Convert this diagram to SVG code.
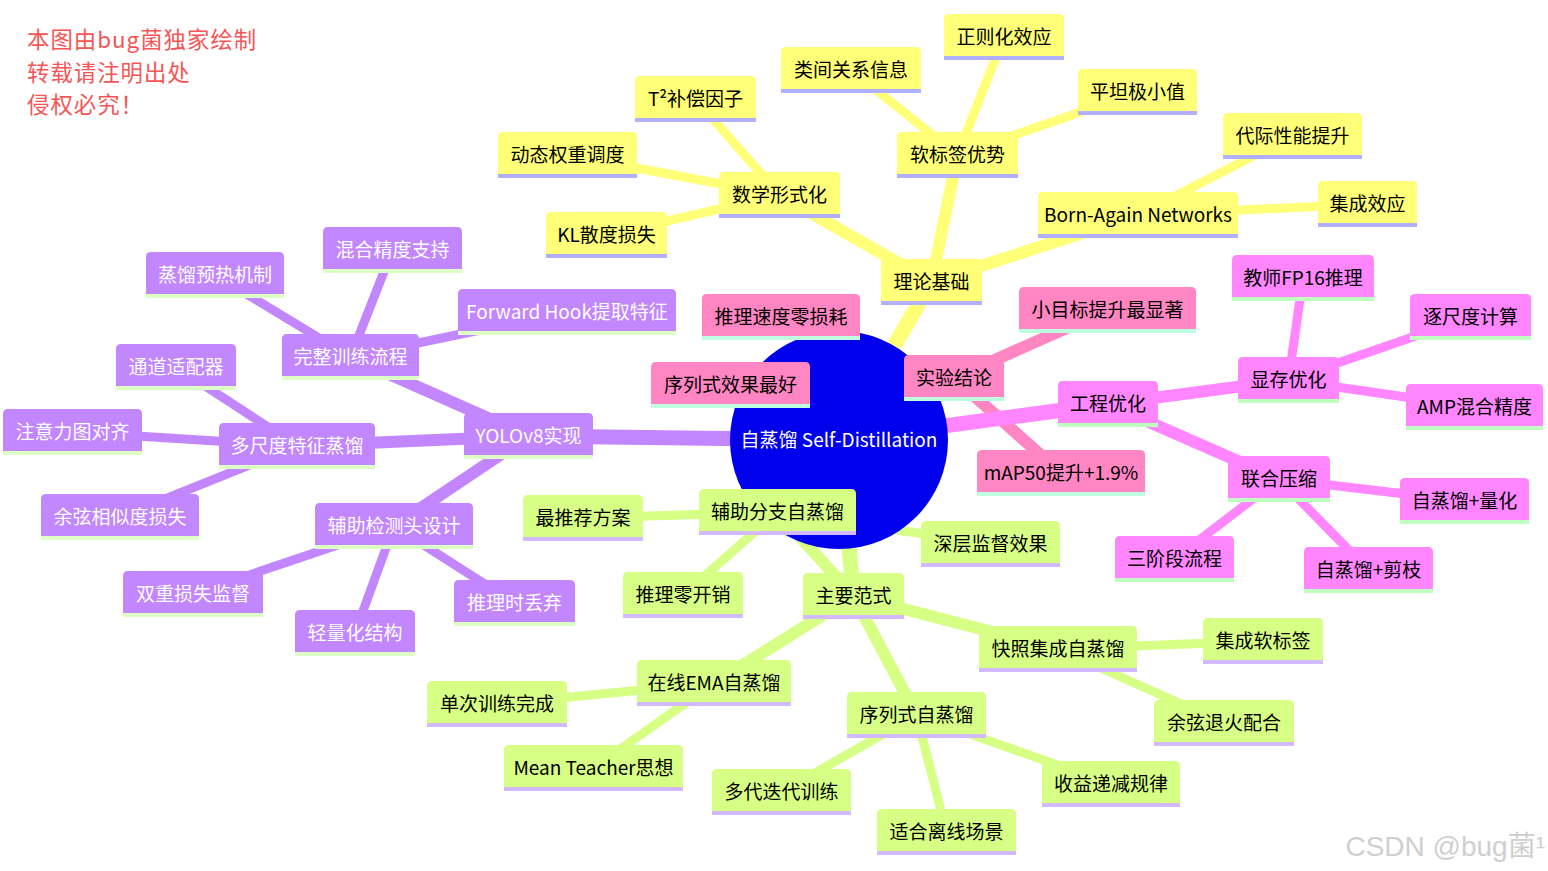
<svg xmlns="http://www.w3.org/2000/svg" width="1548" height="871" viewBox="0 0 1548 871">
<style>
text{font-family:"Noto Sans CJK SC","Noto Sans",sans-serif;font-size:19px;text-anchor:middle}
.e{fill:none;stroke-linecap:butt}
.w0{stroke-width:15}.w1{stroke-width:12}.w2{stroke-width:9}
.cy{stroke:#ffff78}.cp{stroke:#ff86c2}.cm{stroke:#ff86ff}.cu{stroke:#c286ff}.cg{stroke:#d7ff86}
.sy .b{fill:#ffff78}.sy .l{fill:#b0b0ff}.sy text{fill:#000}
.sp .b{fill:#ff86c2}.sp .l{fill:#bdffe0}.sp text{fill:#000}
.sm .b{fill:#ff86ff}.sm .l{fill:#bfffbf}.sm text{fill:#000}
.su .b{fill:#c286ff}.su .l{fill:#ddffc6}.su text{fill:#fff}
.sg .b{fill:#d7ff86}.sg .l{fill:#d3b9ff}.sg text{fill:#000}
.note{font-size:22.4px;letter-spacing:1px;text-anchor:start;fill:#f55555}
.wm{font-family:"Liberation Sans","Noto Sans CJK SC",sans-serif;font-size:28px;text-anchor:end;fill:#cfcfcf}
</style>
<rect width="1548" height="871" fill="#fff"/>
<g id="connectors">
<line class="e w0 cy" x1="839" y1="440" x2="931.5" y2="282"/>
<line class="e w1 cy" x1="931.5" y1="282" x2="779.5" y2="195"/>
<line class="e w1 cy" x1="931.5" y1="282" x2="957.5" y2="155"/>
<line class="e w1 cy" x1="931.5" y1="282" x2="1138" y2="215"/>
<line class="e w2 cy" x1="779.5" y1="195" x2="695.5" y2="99"/>
<line class="e w2 cy" x1="779.5" y1="195" x2="567.5" y2="155"/>
<line class="e w2 cy" x1="779.5" y1="195" x2="606.5" y2="235"/>
<line class="e w2 cy" x1="957.5" y1="155" x2="851" y2="70"/>
<line class="e w2 cy" x1="957.5" y1="155" x2="1004" y2="37"/>
<line class="e w2 cy" x1="957.5" y1="155" x2="1137.5" y2="92"/>
<line class="e w2 cy" x1="1138" y1="215" x2="1292.5" y2="136"/>
<line class="e w2 cy" x1="1138" y1="215" x2="1367.5" y2="204"/>
<line class="e w0 cp" x1="839" y1="440" x2="954" y2="378"/>
<line class="e w1 cp" x1="954" y1="378" x2="1107.5" y2="310"/>
<line class="e w1 cp" x1="954" y1="378" x2="1061" y2="473"/>
<line class="e w1 cp" x1="954" y1="378" x2="781" y2="317"/>
<line class="e w1 cp" x1="954" y1="378" x2="730.5" y2="385"/>
<line class="e w0 cm" x1="839" y1="440" x2="1108" y2="404"/>
<line class="e w1 cm" x1="1108" y1="404" x2="1288.5" y2="380"/>
<line class="e w1 cm" x1="1108" y1="404" x2="1279" y2="479"/>
<line class="e w2 cm" x1="1288.5" y1="380" x2="1303" y2="278"/>
<line class="e w2 cm" x1="1288.5" y1="380" x2="1470.5" y2="317"/>
<line class="e w2 cm" x1="1288.5" y1="380" x2="1474.5" y2="407"/>
<line class="e w2 cm" x1="1279" y1="479" x2="1464.5" y2="501"/>
<line class="e w2 cm" x1="1279" y1="479" x2="1174.5" y2="559"/>
<line class="e w2 cm" x1="1279" y1="479" x2="1368.5" y2="570"/>
<line class="e w0 cu" x1="839" y1="440" x2="528.5" y2="436"/>
<line class="e w1 cu" x1="528.5" y1="436" x2="350.5" y2="357"/>
<line class="e w1 cu" x1="528.5" y1="436" x2="297" y2="446"/>
<line class="e w1 cu" x1="528.5" y1="436" x2="394" y2="526"/>
<line class="e w2 cu" x1="350.5" y1="357" x2="215" y2="275"/>
<line class="e w2 cu" x1="350.5" y1="357" x2="392.5" y2="250"/>
<line class="e w2 cu" x1="350.5" y1="357" x2="567" y2="312"/>
<line class="e w2 cu" x1="297" y1="446" x2="176" y2="367"/>
<line class="e w2 cu" x1="297" y1="446" x2="72.5" y2="432"/>
<line class="e w2 cu" x1="297" y1="446" x2="120" y2="517"/>
<line class="e w2 cu" x1="394" y1="526" x2="193" y2="594"/>
<line class="e w2 cu" x1="394" y1="526" x2="355" y2="633"/>
<line class="e w2 cu" x1="394" y1="526" x2="514.5" y2="603"/>
<line class="e w0 cg" x1="839" y1="440" x2="853.5" y2="596"/>
<line class="e w1 cg" x1="853.5" y1="596" x2="777.5" y2="512"/>
<line class="e w1 cg" x1="853.5" y1="596" x2="1058" y2="649"/>
<line class="e w1 cg" x1="853.5" y1="596" x2="916.5" y2="715"/>
<line class="e w1 cg" x1="853.5" y1="596" x2="714" y2="683"/>
<line class="e w2 cg" x1="777.5" y1="512" x2="583" y2="518"/>
<line class="e w2 cg" x1="777.5" y1="512" x2="683" y2="595"/>
<line class="e w2 cg" x1="777.5" y1="512" x2="990.5" y2="544"/>
<line class="e w2 cg" x1="1058" y1="649" x2="1263" y2="641"/>
<line class="e w2 cg" x1="1058" y1="649" x2="1224" y2="723"/>
<line class="e w2 cg" x1="916.5" y1="715" x2="1111" y2="784"/>
<line class="e w2 cg" x1="916.5" y1="715" x2="946.5" y2="832"/>
<line class="e w2 cg" x1="916.5" y1="715" x2="781.5" y2="792"/>
<line class="e w2 cg" x1="714" y1="683" x2="497" y2="704"/>
<line class="e w2 cg" x1="714" y1="683" x2="593.5" y2="768"/>
</g>
<g id="root"><circle cx="839" cy="440" r="109" fill="#0000ec"/><text x="839" y="447" fill="#fff">自蒸馏 Self-Distillation</text></g>

<g id="n-lilun" class="sy" transform="translate(881,259)"><path class="b" d="M0 42V5Q0 0 5 0H96Q101 0 101 5V42Z"/><rect class="l" y="42" width="101" height="4"/><text x="50.5" y="30">理论基础</text></g>
<g id="n-shuxue" class="sy" transform="translate(719,172)"><path class="b" d="M0 42V5Q0 0 5 0H116Q121 0 121 5V42Z"/><rect class="l" y="42" width="121" height="4"/><text x="60.5" y="30">数学形式化</text></g>
<g id="n-t2" class="sy" transform="translate(635,76)"><path class="b" d="M0 42V5Q0 0 5 0H116Q121 0 121 5V42Z"/><rect class="l" y="42" width="121" height="4"/><text x="60.5" y="30">T²补偿因子</text></g>
<g id="n-dongtai" class="sy" transform="translate(498,132)"><path class="b" d="M0 42V5Q0 0 5 0H134Q139 0 139 5V42Z"/><rect class="l" y="42" width="139" height="4"/><text x="69.5" y="30">动态权重调度</text></g>
<g id="n-kl" class="sy" transform="translate(546,212)"><path class="b" d="M0 42V5Q0 0 5 0H116Q121 0 121 5V42Z"/><rect class="l" y="42" width="121" height="4"/><text x="60.5" y="30">KL散度损失</text></g>
<g id="n-ruanbiaoqian" class="sy" transform="translate(897,132)"><path class="b" d="M0 42V5Q0 0 5 0H116Q121 0 121 5V42Z"/><rect class="l" y="42" width="121" height="4"/><text x="60.5" y="30">软标签优势</text></g>
<g id="n-leijian" class="sy" transform="translate(781,47)"><path class="b" d="M0 42V5Q0 0 5 0H135Q140 0 140 5V42Z"/><rect class="l" y="42" width="140" height="4"/><text x="70" y="30">类间关系信息</text></g>
<g id="n-zhengze" class="sy" transform="translate(944,14)"><path class="b" d="M0 42V5Q0 0 5 0H115Q120 0 120 5V42Z"/><rect class="l" y="42" width="120" height="4"/><text x="60" y="30">正则化效应</text></g>
<g id="n-pingtan" class="sy" transform="translate(1078,69)"><path class="b" d="M0 42V5Q0 0 5 0H114Q119 0 119 5V42Z"/><rect class="l" y="42" width="119" height="4"/><text x="59.5" y="30">平坦极小值</text></g>
<g id="n-born" class="sy" transform="translate(1038,192)"><path class="b" d="M0 42V5Q0 0 5 0H195Q200 0 200 5V42Z"/><rect class="l" y="42" width="200" height="4"/><text x="100" y="30">Born-Again Networks</text></g>
<g id="n-daiji" class="sy" transform="translate(1223,113)"><path class="b" d="M0 42V5Q0 0 5 0H134Q139 0 139 5V42Z"/><rect class="l" y="42" width="139" height="4"/><text x="69.5" y="30">代际性能提升</text></g>
<g id="n-jicheng" class="sy" transform="translate(1318,181)"><path class="b" d="M0 42V5Q0 0 5 0H94Q99 0 99 5V42Z"/><rect class="l" y="42" width="99" height="4"/><text x="49.5" y="30">集成效应</text></g>

<g id="n-shiyan" class="sp" transform="translate(904,355)"><path class="b" d="M0 42V5Q0 0 5 0H95Q100 0 100 5V42Z"/><rect class="l" y="42" width="100" height="4"/><text x="50" y="30">实验结论</text></g>
<g id="n-xiaomubiao" class="sp" transform="translate(1019,287)"><path class="b" d="M0 42V5Q0 0 5 0H172Q177 0 177 5V42Z"/><rect class="l" y="42" width="177" height="4"/><text x="88.5" y="30">小目标提升最显著</text></g>
<g id="n-map" class="sp" transform="translate(977,450)"><path class="b" d="M0 42V5Q0 0 5 0H163Q168 0 168 5V42Z"/><rect class="l" y="42" width="168" height="4"/><text x="84" y="30">mAP50提升+1.9%</text></g>
<g id="n-tuilisudu" class="sp" transform="translate(702,294)"><path class="b" d="M0 42V5Q0 0 5 0H153Q158 0 158 5V42Z"/><rect class="l" y="42" width="158" height="4"/><text x="79" y="30">推理速度零损耗</text></g>
<g id="n-xulieshi-best" class="sp" transform="translate(651,362)"><path class="b" d="M0 42V5Q0 0 5 0H154Q159 0 159 5V42Z"/><rect class="l" y="42" width="159" height="4"/><text x="79.5" y="30">序列式效果最好</text></g>

<g id="n-gongcheng" class="sm" transform="translate(1058,381)"><path class="b" d="M0 42V5Q0 0 5 0H95Q100 0 100 5V42Z"/><rect class="l" y="42" width="100" height="4"/><text x="50" y="30">工程优化</text></g>
<g id="n-xiancun" class="sm" transform="translate(1238,357)"><path class="b" d="M0 42V5Q0 0 5 0H96Q101 0 101 5V42Z"/><rect class="l" y="42" width="101" height="4"/><text x="50.5" y="30">显存优化</text></g>
<g id="n-fp16" class="sm" transform="translate(1232,255)"><path class="b" d="M0 42V5Q0 0 5 0H137Q142 0 142 5V42Z"/><rect class="l" y="42" width="142" height="4"/><text x="71" y="30">教师FP16推理</text></g>
<g id="n-zhuchidu" class="sm" transform="translate(1410,294)"><path class="b" d="M0 42V5Q0 0 5 0H116Q121 0 121 5V42Z"/><rect class="l" y="42" width="121" height="4"/><text x="60.5" y="30">逐尺度计算</text></g>
<g id="n-amp" class="sm" transform="translate(1406,384)"><path class="b" d="M0 42V5Q0 0 5 0H132Q137 0 137 5V42Z"/><rect class="l" y="42" width="137" height="4"/><text x="68.5" y="30">AMP混合精度</text></g>
<g id="n-lianhe" class="sm" transform="translate(1228,456)"><path class="b" d="M0 42V5Q0 0 5 0H97Q102 0 102 5V42Z"/><rect class="l" y="42" width="102" height="4"/><text x="51" y="30">联合压缩</text></g>
<g id="n-lianghua" class="sm" transform="translate(1400,478)"><path class="b" d="M0 42V5Q0 0 5 0H124Q129 0 129 5V42Z"/><rect class="l" y="42" width="129" height="4"/><text x="64.5" y="30">自蒸馏+量化</text></g>
<g id="n-sanjieduan" class="sm" transform="translate(1115,536)"><path class="b" d="M0 42V5Q0 0 5 0H114Q119 0 119 5V42Z"/><rect class="l" y="42" width="119" height="4"/><text x="59.5" y="30">三阶段流程</text></g>
<g id="n-jianzhi" class="sm" transform="translate(1304,547)"><path class="b" d="M0 42V5Q0 0 5 0H124Q129 0 129 5V42Z"/><rect class="l" y="42" width="129" height="4"/><text x="64.5" y="30">自蒸馏+剪枝</text></g>

<g id="n-yolo" class="su" transform="translate(464,413)"><path class="b" d="M0 42V5Q0 0 5 0H124Q129 0 129 5V42Z"/><rect class="l" y="42" width="129" height="4"/><text x="64.5" y="30">YOLOv8实现</text></g>
<g id="n-wanzheng" class="su" transform="translate(282,334)"><path class="b" d="M0 42V5Q0 0 5 0H132Q137 0 137 5V42Z"/><rect class="l" y="42" width="137" height="4"/><text x="68.5" y="30">完整训练流程</text></g>
<g id="n-yure" class="su" transform="translate(146,252)"><path class="b" d="M0 42V5Q0 0 5 0H133Q138 0 138 5V42Z"/><rect class="l" y="42" width="138" height="4"/><text x="69" y="30">蒸馏预热机制</text></g>
<g id="n-hunhe" class="su" transform="translate(323,227)"><path class="b" d="M0 42V5Q0 0 5 0H134Q139 0 139 5V42Z"/><rect class="l" y="42" width="139" height="4"/><text x="69.5" y="30">混合精度支持</text></g>
<g id="n-hook" class="su" transform="translate(458,289)"><path class="b" d="M0 42V5Q0 0 5 0H213Q218 0 218 5V42Z"/><rect class="l" y="42" width="218" height="4"/><text x="109" y="30">Forward Hook提取特征</text></g>
<g id="n-duochidu" class="su" transform="translate(219,423)"><path class="b" d="M0 42V5Q0 0 5 0H151Q156 0 156 5V42Z"/><rect class="l" y="42" width="156" height="4"/><text x="78" y="30">多尺度特征蒸馏</text></g>
<g id="n-tongdao" class="su" transform="translate(116,344)"><path class="b" d="M0 42V5Q0 0 5 0H115Q120 0 120 5V42Z"/><rect class="l" y="42" width="120" height="4"/><text x="60" y="30">通道适配器</text></g>
<g id="n-zhuyili" class="su" transform="translate(3,409)"><path class="b" d="M0 42V5Q0 0 5 0H134Q139 0 139 5V42Z"/><rect class="l" y="42" width="139" height="4"/><text x="69.5" y="30">注意力图对齐</text></g>
<g id="n-yuxian" class="su" transform="translate(41,494)"><path class="b" d="M0 42V5Q0 0 5 0H153Q158 0 158 5V42Z"/><rect class="l" y="42" width="158" height="4"/><text x="79" y="30">余弦相似度损失</text></g>
<g id="n-fuzhutou" class="su" transform="translate(315,503)"><path class="b" d="M0 42V5Q0 0 5 0H153Q158 0 158 5V42Z"/><rect class="l" y="42" width="158" height="4"/><text x="79" y="30">辅助检测头设计</text></g>
<g id="n-shuangchong" class="su" transform="translate(123,571)"><path class="b" d="M0 42V5Q0 0 5 0H135Q140 0 140 5V42Z"/><rect class="l" y="42" width="140" height="4"/><text x="70" y="30">双重损失监督</text></g>
<g id="n-qingliang" class="su" transform="translate(295,610)"><path class="b" d="M0 42V5Q0 0 5 0H115Q120 0 120 5V42Z"/><rect class="l" y="42" width="120" height="4"/><text x="60" y="30">轻量化结构</text></g>
<g id="n-diuqi" class="su" transform="translate(454,580)"><path class="b" d="M0 42V5Q0 0 5 0H116Q121 0 121 5V42Z"/><rect class="l" y="42" width="121" height="4"/><text x="60.5" y="30">推理时丢弃</text></g>

<g id="n-zhuyao" class="sg" transform="translate(803,573)"><path class="b" d="M0 42V5Q0 0 5 0H96Q101 0 101 5V42Z"/><rect class="l" y="42" width="101" height="4"/><text x="50.5" y="30">主要范式</text></g>
<g id="n-fuzhufenzhi" class="sg" transform="translate(699,489)"><path class="b" d="M0 42V5Q0 0 5 0H152Q157 0 157 5V42Z"/><rect class="l" y="42" width="157" height="4"/><text x="78.5" y="30">辅助分支自蒸馏</text></g>
<g id="n-tuijian" class="sg" transform="translate(523,495)"><path class="b" d="M0 42V5Q0 0 5 0H115Q120 0 120 5V42Z"/><rect class="l" y="42" width="120" height="4"/><text x="60" y="30">最推荐方案</text></g>
<g id="n-linkaixiao" class="sg" transform="translate(623,572)"><path class="b" d="M0 42V5Q0 0 5 0H115Q120 0 120 5V42Z"/><rect class="l" y="42" width="120" height="4"/><text x="60" y="30">推理零开销</text></g>
<g id="n-shenceng" class="sg" transform="translate(921,521)"><path class="b" d="M0 42V5Q0 0 5 0H134Q139 0 139 5V42Z"/><rect class="l" y="42" width="139" height="4"/><text x="69.5" y="30">深层监督效果</text></g>
<g id="n-kuaizhao" class="sg" transform="translate(979,626)"><path class="b" d="M0 42V5Q0 0 5 0H153Q158 0 158 5V42Z"/><rect class="l" y="42" width="158" height="4"/><text x="79" y="30">快照集成自蒸馏</text></g>
<g id="n-ruanbiaoqian2" class="sg" transform="translate(1203,618)"><path class="b" d="M0 42V5Q0 0 5 0H115Q120 0 120 5V42Z"/><rect class="l" y="42" width="120" height="4"/><text x="60" y="30">集成软标签</text></g>
<g id="n-tuihuo" class="sg" transform="translate(1154,700)"><path class="b" d="M0 42V5Q0 0 5 0H135Q140 0 140 5V42Z"/><rect class="l" y="42" width="140" height="4"/><text x="70" y="30">余弦退火配合</text></g>
<g id="n-xulieshi" class="sg" transform="translate(847,692)"><path class="b" d="M0 42V5Q0 0 5 0H134Q139 0 139 5V42Z"/><rect class="l" y="42" width="139" height="4"/><text x="69.5" y="30">序列式自蒸馏</text></g>
<g id="n-shouyi" class="sg" transform="translate(1042,761)"><path class="b" d="M0 42V5Q0 0 5 0H133Q138 0 138 5V42Z"/><rect class="l" y="42" width="138" height="4"/><text x="69" y="30">收益递减规律</text></g>
<g id="n-lixian" class="sg" transform="translate(877,809)"><path class="b" d="M0 42V5Q0 0 5 0H134Q139 0 139 5V42Z"/><rect class="l" y="42" width="139" height="4"/><text x="69.5" y="30">适合离线场景</text></g>
<g id="n-duodai" class="sg" transform="translate(712,769)"><path class="b" d="M0 42V5Q0 0 5 0H134Q139 0 139 5V42Z"/><rect class="l" y="42" width="139" height="4"/><text x="69.5" y="30">多代迭代训练</text></g>
<g id="n-ema" class="sg" transform="translate(637,660)"><path class="b" d="M0 42V5Q0 0 5 0H149Q154 0 154 5V42Z"/><rect class="l" y="42" width="154" height="4"/><text x="77" y="30">在线EMA自蒸馏</text></g>
<g id="n-dancixunlian" class="sg" transform="translate(427,681)"><path class="b" d="M0 42V5Q0 0 5 0H135Q140 0 140 5V42Z"/><rect class="l" y="42" width="140" height="4"/><text x="70" y="30">单次训练完成</text></g>
<g id="n-meanteacher" class="sg" transform="translate(504,745)"><path class="b" d="M0 42V5Q0 0 5 0H174Q179 0 179 5V42Z"/><rect class="l" y="42" width="179" height="4"/><text x="89.5" y="30">Mean Teacher思想</text></g>

<g id="note">
<text class="note" x="27" y="48">本图由bug菌独家绘制</text>
<text class="note" x="27" y="80.5">转载请注明出处</text>
<text class="note" x="27" y="113">侵权必究！</text>
</g>
<text class="wm" x="1545" y="856">CSDN @bug菌¹</text>
</svg>
